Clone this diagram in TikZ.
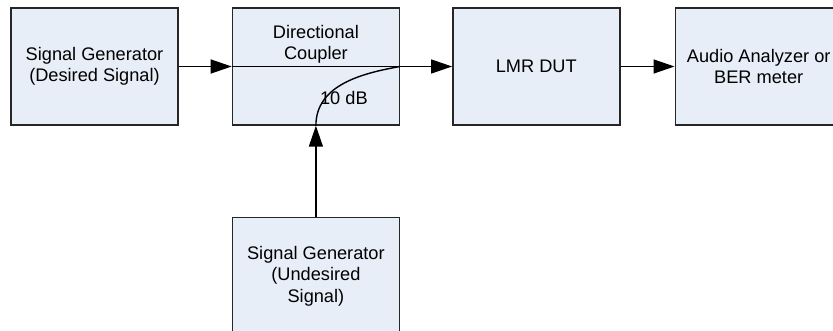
\documentclass[tikz,border=0pt]{standalone}
\usepackage{fontspec}
\setmainfont{Liberation Sans}
\usetikzlibrary{positioning,arrows.meta}
\definecolor{boxfill}{RGB}{232,238,248}

\begin{document}
\begin{tikzpicture}[node distance=26.5pt, >={Triangle[length=10.5pt,width=7pt]}, line width=0.7pt,
    block/.style={rectangle, draw=black!85, fill=boxfill, minimum width=83.5pt, minimum height=58.5pt,
        align=center, inner sep=0pt, font=\fontsize{9.1}{10.75}\selectfont},
    txt/.style={inner sep=0pt, align=center, font=\fontsize{9.1}{10.75}\selectfont}]
        \useasboundingbox (0,0) rectangle (416.5pt,-165.5pt);

        % Signal chain
        \node[block] (siggen) at (47.25pt,-33.25pt) {Signal Generator\\(Desired Signal)};
        \node[block, right=of siggen] (coupler) {};
        \node[block, right=26pt of coupler] (dut) {LMR DUT};
        \node[block, right=27pt of dut] (analyzer) {Audio Analyzer or\\BER meter};

        % Interfering source below the coupler
        \node[block, below=45.5pt of coupler] (intgen) {Signal Generator\\(Undesired\\Signal)};

        % Coupler texts
        \node[txt, anchor=north] (couplertext) at ([yshift=-8.5pt]coupler.north) {Directional\\Coupler};
        \node[txt] (losstext) at ([xshift=14pt,yshift=-15.5pt]coupler.center) {10 dB};

        % Connections
        \draw[->] (siggen) -- (coupler);
        \draw (coupler.west) -- (coupler.east);
        \draw[->] (coupler.east) -- (dut);
        \draw[->] (dut) -- (analyzer);
        \draw[->] (intgen) -- (coupler);
        \draw (coupler.south) to[out=90, in=190] (coupler.east);
\end{tikzpicture}
\end{document}
